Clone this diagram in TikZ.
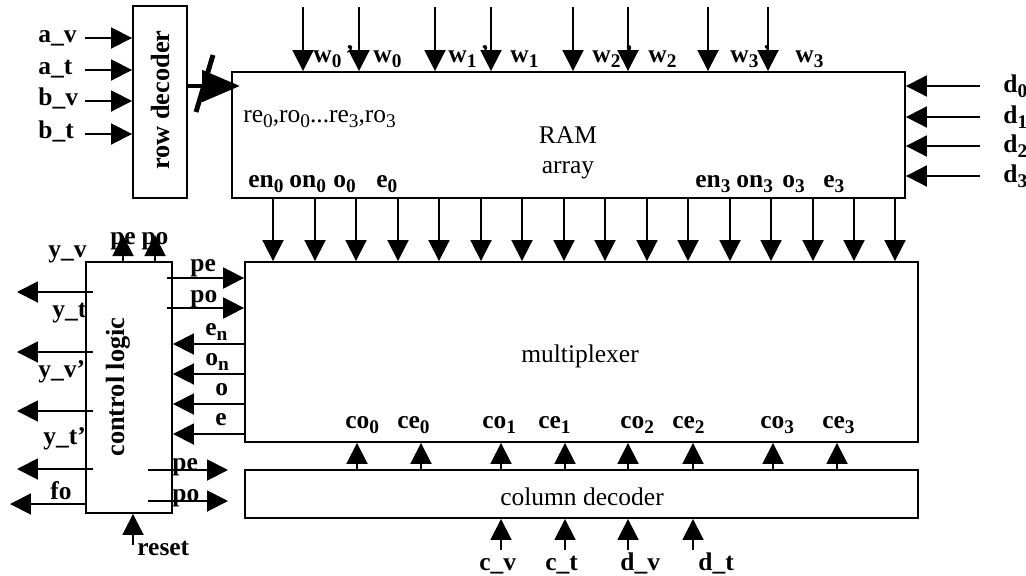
\documentclass[tikz,border=0pt]{standalone}
\usepackage{fontspec}
\setmainfont{Liberation Serif}
\usetikzlibrary{arrows.meta, calc}
\newcommand{\lsub}[1]{\raisebox{-3pt}{\fontsize{11}{12}\selectfont#1}}

\begin{document}
\begin{tikzpicture}[
    x=0.02cm, y=-0.02cm,
    blk/.style={draw, line width=1.1pt, inner sep=0pt},
    lbl/.style={font=\fontsize{14.5}{17}\selectfont\bfseries, inner sep=0pt, anchor=base west},
    txt/.style={font=\fontsize{14.5}{17}\selectfont, inner sep=0pt},
    sig/.style={-{Triangle[length=0.42cm, width=0.42cm]}, line width=1.1pt},
    bus/.style={-{Triangle[length=0.76cm, width=0.62cm]}, line width=2.8pt}
]
\useasboundingbox (0,0) rectangle (1026,575);

% Blocks
\node[blk, minimum width=1.08cm, minimum height=3.84cm] (rowdec) at (160,102) {};
\node[blk, minimum width=13.46cm, minimum height=2.52cm] (ram) at (568.5,135) {};
\node[blk, minimum width=13.46cm, minimum height=3.6cm] (mux) at (581.5,352) {};
\node[blk, minimum width=13.46cm, minimum height=0.96cm] (coldec) at (581.5,494) {};
\node[blk, minimum width=1.72cm, minimum height=5.02cm] (ctrl) at (129,387.5) {};

\node[lbl, rotate=90, anchor=center, font=\fontsize{15}{17}\selectfont\bfseries] (rowdectxt) at (160,100) {row decoder};
\node[lbl, rotate=90, anchor=center, font=\fontsize{15}{17}\selectfont\bfseries] (ctrltxt) at (118,387) {control logic};
\node[txt, anchor=base] (ramtxt) at (568,143) {RAM};
\node[txt, anchor=base] (arraytxt) at (568,173) {array};
\node[txt, anchor=base west] (rowsel) at (243,122) {re\lsub{0},ro\lsub{0}...re\lsub{3},ro\lsub{3}};
\node[txt, anchor=base] (muxtxt) at (580,362) {multiplexer};
\node[txt, anchor=base] (coltxt) at (582,505) {column decoder};

% Row decoder inputs and bus
\foreach \y/\t [count=\i] in {38/a\_v, 70/a\_t, 101/b\_v, 134/b\_t}{
  \coordinate (rin\i) at (85,\y);
  \draw[sig] (rin\i) -- (rin\i -| rowdec.west);
  \node[lbl] (rlab\i) at (38,\y+4) {\t};
}
\coordinate (bustip) at (240,86);
\draw[bus] (rowdec.east |- bustip) -- (bustip);
\draw[line width=2.8pt] (196,112) -- (213,55);

% Word lines
\foreach \a/\b/\la/\lb/\n in {303/359/313/373/0, 435/491/448/510/1, 573/628/592/648/2, 708/768/730/795/3}{
  \coordinate (wp\n) at (\a,7);
  \coordinate (w\n) at (\b,7);
  \draw[sig] (wp\n) -- (wp\n |- ram.north);
  \draw[sig] (w\n) -- (w\n |- ram.north);
  \node[lbl] (wplab\n) at (\la,62) {w\lsub{\n}\,'};
  \node[lbl] (wlab\n) at (\lb,62) {w\lsub{\n}};
}

% Data inputs
\foreach \y [count=\i from 0] in {86,117,146,176}{
  \coordinate (din\i) at (980,\y);
  \draw[sig] (din\i) -- (din\i -| ram.east);
  \node[lbl] (dlab\i) at (1003,\y+6) {d\lsub{\i}};
}

% RAM outputs
\foreach \x/\t [count=\i] in {248/en\lsub{0}, 289/on\lsub{0}, 333/o\lsub{0}, 376/e\lsub{0}, 695/en\lsub{3}, 736/on\lsub{3}, 782/o\lsub{3}, 823/e\lsub{3}}
  \node[lbl] (blab\i) at (\x,187) {\t};
\foreach \x [count=\i] in {273,315,356,398,439,481,522,564,605,647,688,730,771,813,854,895}{
  \coordinate (bit\i) at (\x,198);
  \draw[sig] (bit\i |- ram.south) -- (bit\i |- mux.north);
}

% Control logic
\node[lbl, anchor=base] (pet) at (123,244) {pe};
\node[lbl, anchor=base] (pot) at (155,244) {po};
\foreach \x [count=\i] in {123,155}{
  \coordinate (ctop\i) at (\x,235);
  \draw[sig] (ctop\i |- ctrl.north) -- (ctop\i);
}
\foreach \y/\x [count=\i] in {292/17, 352/17, 411/17, 469/17}{
  \coordinate (yo\i) at (\x,\y);
  \draw[sig] ($(ctrl.west |- yo\i)+(8,0)$) -- (yo\i);
}
\coordinate (fo) at (10,504);
\draw[sig] (ctrl.west |- fo) -- (fo);
\foreach \x/\y/\t [count=\i] in {48/257/y\_v, 52/317/y\_t, 38/377/y\_v', 43/444/y\_t', 50/499/fo}
  \node[lbl] (ylab\i) at (\x,\y) {\t};

\foreach \y/\t [count=\i] in {278/pe, 308/po}{
  \coordinate (pin\i) at (167,\y);
  \draw[sig] (pin\i) -- (pin\i -| mux.west);
}
\node[lbl] (pelab) at (190,271) {pe};
\node[lbl] (polab) at (190,302) {po};
\foreach \y/\x/\t [count=\i] in {344/205/e\lsub{n}, 374/205/o\lsub{n}, 404/215/o, 434/215/e}{
  \coordinate (mo\i) at (200,\y);
  \draw[sig] (mo\i -| mux.west) -- (mo\i -| ctrl.east);
  \node[lbl] (molab\i) at (\x,\y-9) {\t};
}
\foreach \y/\t [count=\i] in {470/pe, 501/po}{
  \coordinate (pst\i) at (148,\y);
  \coordinate (pend\i) at (228,\y);
  \draw[sig] (pst\i) -- (pend\i);
  \node[lbl] (pslab\i) at (172,\y) {\t};
}
\coordinate (rst) at (133,545);
\draw[sig] (rst) -- (rst |- ctrl.south);
\node[lbl] (rstlab) at (137,555) {reset};

% Column decoder
\foreach \x/\l/\t [count=\i] in {357/345/co\lsub{0}, 421/397/ce\lsub{0}, 501/482/co\lsub{1}, 565/538/ce\lsub{1}, 628/620/co\lsub{2}, 693/672/ce\lsub{2}, 773/760/co\lsub{3}, 837/822/ce\lsub{3}}{
  \coordinate (col\i) at (\x,456);
  \draw[sig] (col\i |- coldec.north) -- (col\i |- mux.south);
  \node[lbl] (clab\i) at (\l,428) {\t};
}
\foreach \x/\l/\t [count=\i] in {501/479/c\_v, 565/545/c\_t, 628/620/d\_v, 693/698/d\_t}{
  \coordinate (cin\i) at (\x,550);
  \draw[sig] (cin\i) -- (cin\i |- coldec.south);
  \node[lbl] (cinlab\i) at (\l,570) {\t};
}

\end{tikzpicture}
\end{document}
